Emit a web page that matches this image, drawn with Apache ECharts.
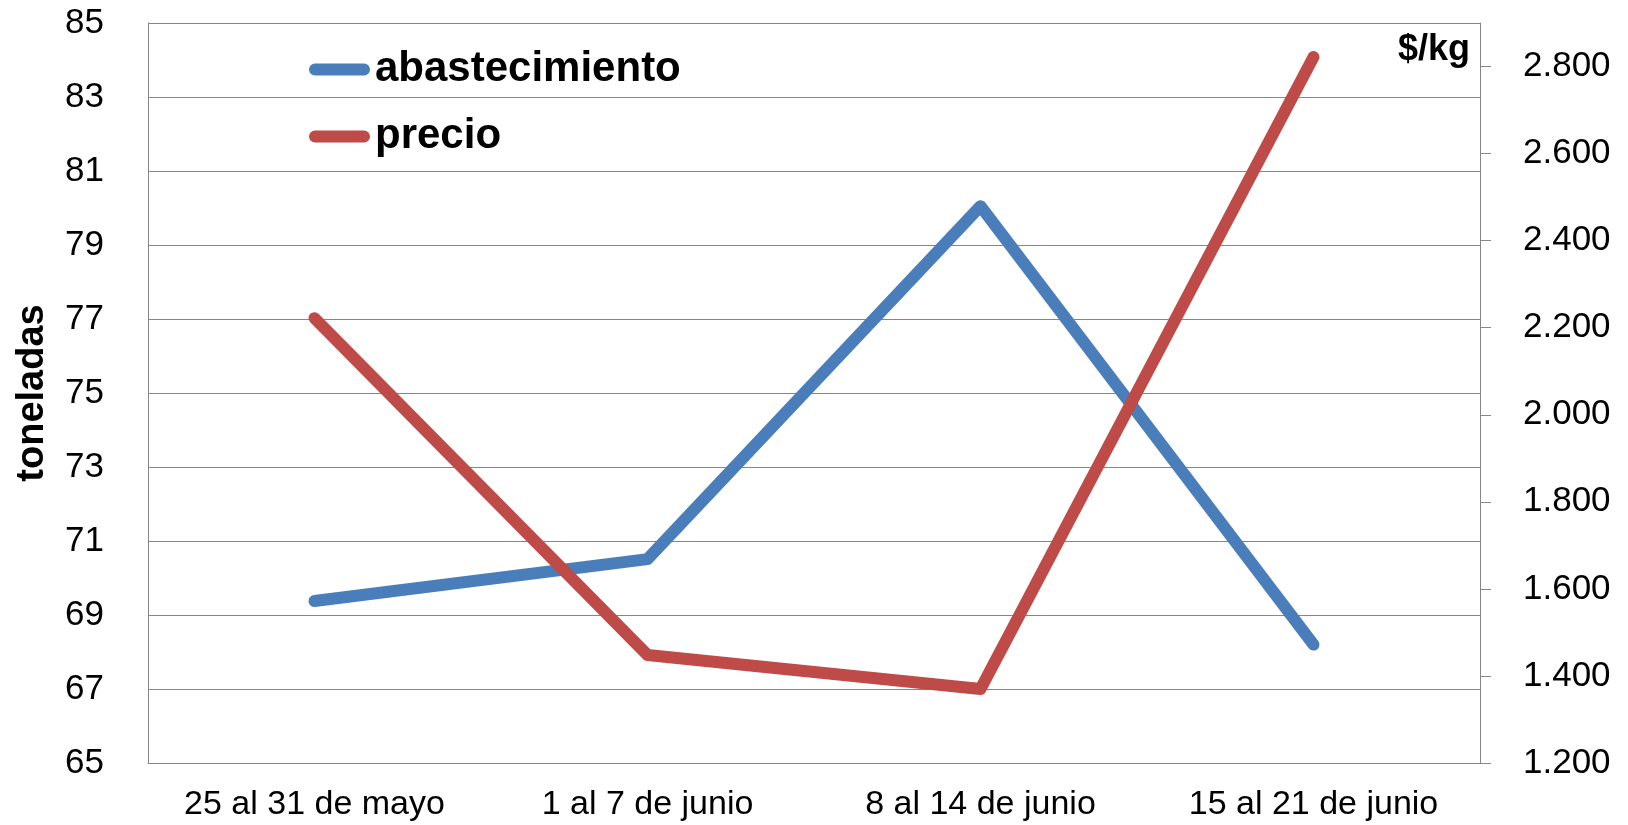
<!DOCTYPE html>
<html>
<head>
<meta charset="utf-8">
<script src="https://cdn.jsdelivr.net/npm/echarts@6/dist/echarts.min.js"></script>
<style>
  html, body { margin: 0; padding: 0; background: #fff; }
  #chart { width: 1628px; height: 825px; }
</style>
</head>
<body>
<div id="chart"></div>
<script>
// datos
const semanas = ["25 al 31 de mayo", "1 al 7 de junio", "8 al 14 de junio", "15 al 21 de junio"];
const abastecimiento = [69.38, 70.51, 80.05, 68.2];
const precio = [2.222, 1.448, 1.37, 2.822];
const precioTicks = [1.2, 1.4, 1.6, 1.8, 2.0, 2.2, 2.4, 2.6, 2.8];

const font = "'Liberation Sans', Arial, sans-serif";
const gris = "#868686";
const capsula = "path://M6,0 L56,0 A6,6 0 0 1 56,12 L6,12 A6,6 0 0 1 6,0 Z";

const myChart = echarts.init(document.getElementById("chart"));

myChart.setOption({
  animation: false,
  textStyle: { fontFamily: font, color: "#000" },
  grid: { left: 148, right: 148, top: 23, bottom: 62, containLabel: false },
  title: {
    text: "$/kg",
    right: 153,
    top: 27,
    textStyle: { fontFamily: font, fontSize: 36, fontWeight: "bold", color: "#000" },
  },
  legend: {
    orient: "vertical",
    left: 304,
    top: 42,
    itemWidth: 61,
    itemHeight: 12,
    itemGap: 22,
    icon: capsula,
    textStyle: { fontFamily: font, fontSize: 42, fontWeight: "bold", color: "#000", lineHeight: 45 },
    data: ["abastecimiento", "precio"],
  },
  xAxis: {
    type: "category",
    data: semanas,
    boundaryGap: true,
    axisLine: { lineStyle: { color: gris, width: 1 } },
    axisTick: { show: false },
    axisLabel: { fontSize: 34, color: "#000", margin: 25, interval: 0 },
  },
  yAxis: [
    {
      type: "value",
      name: "toneladas",
      nameLocation: "middle",
      nameGap: 96,
      nameTextStyle: { fontFamily: font, fontSize: 38, fontWeight: "bold", color: "#000" },
      min: 65,
      max: 85,
      interval: 2,
      axisLine: { show: true, lineStyle: { color: gris, width: 1 } },
      axisTick: { show: false },
      axisLabel: { fontSize: 35, color: "#000", margin: 44 },
      splitLine: { lineStyle: { color: gris, width: 1 } },
    },
    {
      type: "value",
      position: "right",
      min: 1.2,
      max: 2.9,
      interval: 0.2,
      axisLine: { show: true, lineStyle: { color: gris, width: 1 } },
      axisTick: { show: true, length: 11, customValues: precioTicks, lineStyle: { color: gris } },
      axisLabel: {
        fontSize: 35,
        color: "#000",
        margin: 43,
        customValues: precioTicks,
        formatter: (v) => v.toFixed(3),
      },
      splitLine: { show: false },
    },
  ],
  series: [
    {
      name: "abastecimiento",
      type: "line",
      yAxisIndex: 0,
      data: abastecimiento,
      showSymbol: false,
      color: "#4A7EBB",
      lineStyle: { width: 12, color: "#4A7EBB", cap: "round", join: "round" },
    },
    {
      name: "precio",
      type: "line",
      yAxisIndex: 1,
      data: precio,
      showSymbol: false,
      color: "#BE4B48",
      lineStyle: { width: 12, color: "#BE4B48", cap: "round", join: "round" },
    },
  ],
});
</script>
</body>
</html>
